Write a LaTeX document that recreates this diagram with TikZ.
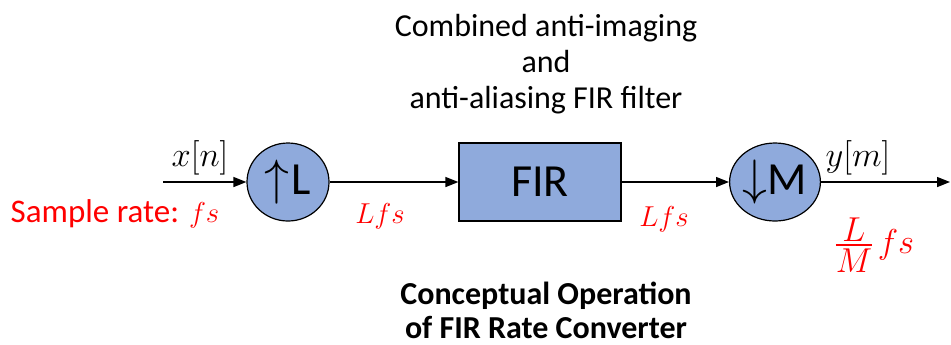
\documentclass[tikz,border=0pt]{standalone}
\usepackage{fontspec}
\setmainfont{Carlito}
\usepackage{amsmath}
\usetikzlibrary{positioning,arrows.meta,shapes.geometric}
\definecolor{firblue}{RGB}{143,170,220}
% compact stacked fraction
\newcommand\ratio[2]{\ensuremath{\vcenter{\offinterlineskip\halign{\hfil##\hfil\cr$#1$\cr\noalign{\kern1.5pt\hrule height .6pt\kern1.5pt}$#2$\cr}}}}

\begin{document}
\begin{tikzpicture}[
  x=0.5pt, y=-0.5pt,
  >={Triangle[length=6.5pt,width=5pt]}, line width=.7pt,
  blk/.style={draw,fill=firblue,line width=.6pt,inner sep=0pt,font=\fontsize{23}{27}\selectfont},
  rsmp/.style={blk,ellipse,minimum width=41pt,minimum height=39pt},
  filt/.style={blk,minimum width=81pt,minimum height=39pt},
  sig/.style={font=\fontsize{16}{18}\selectfont},
  rate/.style={text=red,font=\fontsize{15}{18}\selectfont},
  captxt/.style={align=center,font=\fontsize{16}{18}\selectfont}
]
  \useasboundingbox (0,0) rectangle (951,344);
  \coordinate (xin) at (163,182);
  \coordinate (yout) at (950,182);
  \node[rsmp] (up) at (288,182) {$\uparrow$\kern1pt L};
  \node[filt] (fir) at (540,182) {FIR};
  \node[rsmp,minimum width=42.5pt] (dn) at (775,182) {$\downarrow$\kern0pt M};
  \draw[->] (xin) -- (up);
  \draw[->] (up) -- (fir);
  \draw[->] (fir) -- (dn);
  \draw[->] (dn) -- (yout);
  \node[sig] (xlab) at (200,158) {$x[n]$};
  \node[sig] (ylab) at (858,158) {$y[m]$};
  \node[rate,font=\fontsize{16.5}{18}\selectfont] (fsin) at (115,214) {Sample rate: {\fontsize{15}{18}\selectfont$fs$}};
  \node[rate] (fsup) at (380,216) {$Lfs$};
  \node[rate] (fsfir) at (664,219) {$Lfs$};
  \node[rate,font=\fontsize{18}{20}\selectfont] (fsout) at (875,245) {$\ratio{L}{M}\,fs$};
  \node[captxt] (title) at (546,64) {Combined anti-imaging\\and\\anti-aliasing FIR filter};
  \node[captxt,inner sep=1pt,font=\fontsize{16}{17}\selectfont\bfseries] (note) at (546,310) {Conceptual Operation\\of FIR Rate Converter};
\end{tikzpicture}
\end{document}
